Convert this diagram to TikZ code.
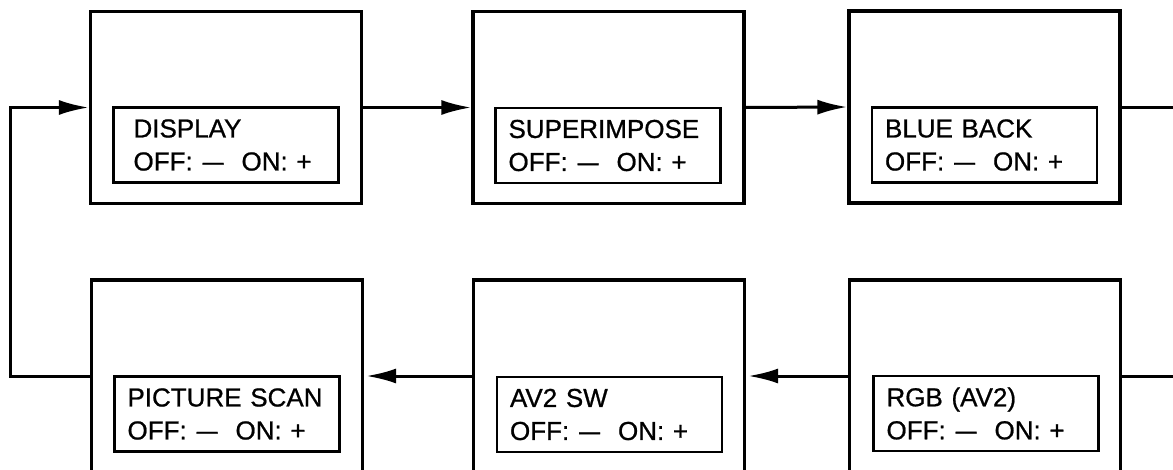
\documentclass[tikz,border=0pt]{standalone}
\usepackage{fontspec}
\setmainfont{Liberation Sans}
\newfontfamily\labelfont[FakeBold=0.8]{Liberation Sans}
\usetikzlibrary{arrows.meta}
\newcommand\offonline{OFF:\hspace{10pt}\scalebox{0.8}[1]{—}\hspace{18pt}ON:\ +}
\begin{document}
\begin{tikzpicture}[x=1pt,y=-1pt,
  outerbox/.style={draw, line width=3.2pt, minimum width=271pt, minimum height=192pt, inner sep=0pt},
  innerbox/.style={draw, line width=2.2pt, minimum width=225pt, minimum height=75pt, text width=199pt, inner xsep=13pt, inner ysep=0pt, align=left, font=\labelfont\fontsize{26}{33}\selectfont},
  conn/.style={line width=3pt},
  arr/.style={conn, -{Latex[length=30pt,width=15pt]}}]
\useasboundingbox (0,0) rectangle (1173,469);
\clip (0,0) rectangle (1173,469);
% outer boxes
\node[outerbox] (b1) at (226,107.5) {};
\node[outerbox] (b2) at (608.5,107.5) {};
\node[outerbox] (b3) at (984.5,107) {};
\node[outerbox] (b4) at (227,376) {};
\node[outerbox] (b5) at (609,376) {};
\node[outerbox] (b6) at (985,376) {};
% inner boxes with labels
\node[innerbox] (i1) at (226,145) {\hspace*{7pt}DISPLAY\\\hspace*{7pt}\offonline};
\node[innerbox] (i2) at (608,145.5) {SUPERIMPOSE\\\offonline};
\node[innerbox] (i3) at (984.5,145) {BLUE BACK\\\offonline};
\node[innerbox] (i4) at (227,414) {PICTURE SCAN\\\offonline};
\node[innerbox] (i5) at (609.5,414.5) {AV2 SW\\\offonline};
\node[innerbox] (i6) at (986,413.5) {RGB (AV2)\\\offonline};
% connectors
\coordinate (lx) at (10,0);
\coordinate (e1) at (1180,107);
\coordinate (e2) at (1180,376);
\draw[arr] (b4.west) -| (lx |- b1.west) -- (b1.west);
\draw[arr] (b1.east) -- (b2.west);
\draw[arr] (b2.east) -- (b3.west);
\draw[conn] (b3.east) -- (e1 |- b3.east);
\draw[conn] (e2 |- b6.east) -- (b6.east);
\draw[arr, shorten >=2pt] (b6.west) -- (b5.east);
\draw[arr, shorten >=2pt] (b5.west) -- (b4.east);
\end{tikzpicture}
\end{document}
